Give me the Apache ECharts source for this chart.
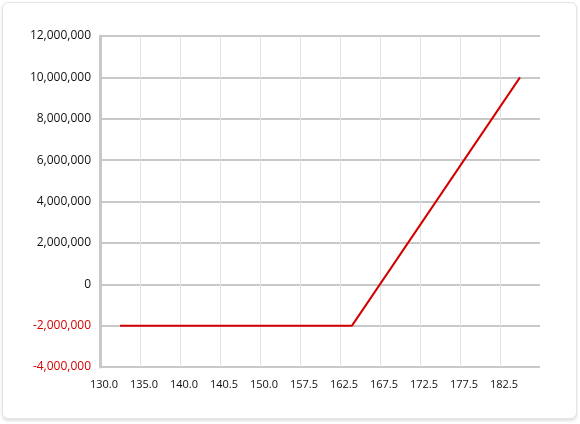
<!DOCTYPE html>
<html>
<head>
<meta charset="utf-8">
<script src="https://cdn.jsdelivr.net/npm/echarts@6/dist/echarts.min.js"></script>
<style>
  html, body { margin: 0; padding: 0; background: #ffffff; }
  #card { position: absolute; left: 2px; top: 2px; width: 573px; height: 415px;
          border: 1px solid #e4e4e4; border-radius: 6px; background: #fff;
          box-shadow: 0 2px 3px rgba(0,0,0,0.12); }
  #chart { position: absolute; left: 0; top: 0; width: 580px; height: 424px; }
</style>
</head>
<body>
<div id="card"></div>
<div id="chart"></div>
<script>
// Data
const xValues = [132.5, 161.5, 182.5];
const yValues = [-2000000, -2000000, 10000000];
const xTickLabels = ['130.0','135.0','140.0','140.5','150.0','157.5','162.5','167.5','172.5','177.5','182.5'];
const xMin = 130, xMax = 185, xStep = 5;
const yMin = -4000000, yMax = 12000000, yStep = 2000000;

const chart = echarts.init(document.getElementById('chart'), null, { renderer: 'canvas' });
const fontFamily = '"Open Sans", "Noto Sans", sans-serif';

chart.setOption({
  animation: false,
  backgroundColor: 'transparent',
  grid: { left: 100, right: 40, top: 36, bottom: 57, containLabel: false },
  xAxis: {
    type: 'value', min: xMin, max: xMax, interval: xStep,
    axisLine: { show: false },
    axisTick: { show: false },
    splitLine: { show: true, showMaxLine: false, lineStyle: { color: '#e2e2e2', width: 1 } },
    axisLabel: {
      margin: 12, color: '#111', fontSize: 11, fontFamily: fontFamily,
      padding: [0, 0, 0, 8],
      showMaxLabel: false,
      formatter: function (v) {
        const i = Math.round((v - xMin) / xStep);
        return xTickLabels[i] !== undefined ? xTickLabels[i] : '';
      }
    }
  },
  yAxis: {
    type: 'value', min: yMin, max: yMax, interval: yStep,
    axisLine: { show: true, lineStyle: { color: '#c8c8c8', width: 3 } },
    axisTick: { show: false },
    splitLine: { show: true, lineStyle: { color: '#c8c8c8', width: 2 } },
    axisLabel: {
      margin: 9, fontSize: 12, fontFamily: fontFamily, color: '#111',
      formatter: function (v) {
        const s = v.toLocaleString('en-US');
        return v < 0 ? '{neg|' + s + '}' : '{pos|' + s + '}';
      },
      rich: {
        neg: { color: '#d40000', fontSize: 12, fontFamily: fontFamily },
        pos: { color: '#111', fontSize: 12, fontFamily: fontFamily }
      }
    }
  },
  series: [{
    type: 'line',
    data: xValues.map((x, i) => [x, yValues[i]]),
    symbol: 'none',
    lineStyle: { color: '#d40000', width: 2 },
    z: 5
  }]
});
</script>
</body>
</html>
